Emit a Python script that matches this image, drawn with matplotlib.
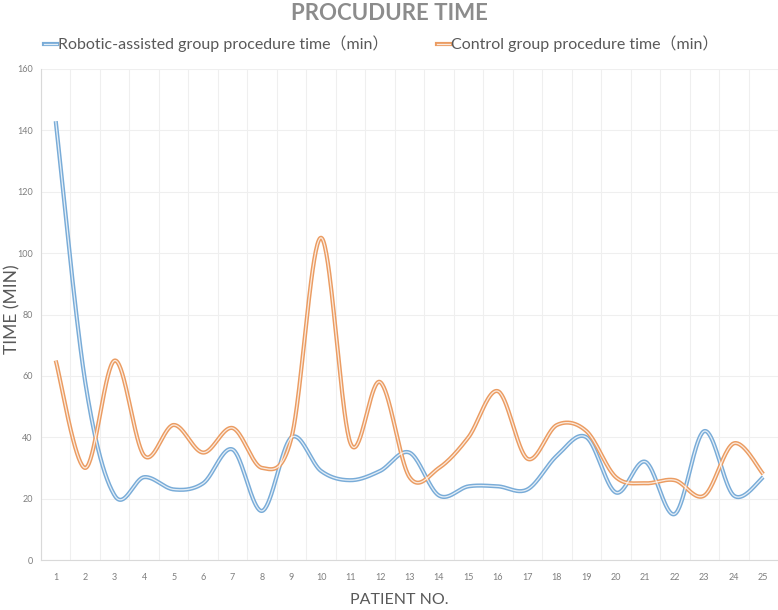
import numpy as np
import matplotlib
matplotlib.use("Agg")
import matplotlib.pyplot as plt

patients = list(range(1, 26))
robotic = [143, 58, 21, 27, 23, 25, 36, 16, 40, 29, 26, 29, 35, 21, 24, 24, 23, 34, 40, 22, 32, 15, 42, 21, 27]
control = [65, 30, 65, 34, 44, 35, 43, 30, 40, 105, 38, 58, 27, 30, 40, 55, 33, 44, 42, 27, 25, 26, 21, 38, 28]
yticks = [0, 20, 40, 60, 80, 100, 120, 140, 160]

title = "PROCUDURE TIME"
label_r = "Robotic-assisted group procedure time（min）"
label_c = "Control group procedure time（min）"

FAM = ["Lato", "Noto Sans CJK SC", "DejaVu Sans"]
plt.rcParams['font.family'] = FAM


def excel_smooth(x, y, n=40):
    x = np.asarray(x, float)
    y = np.asarray(y, float)
    px = np.concatenate([[x[0]], x, [x[-1]]])
    py = np.concatenate([[y[0]], y, [y[-1]]])
    xs, ys = [], []
    t = np.linspace(0, 1, n)
    for i in range(1, len(px) - 2):
        p0 = np.array([px[i], py[i]])
        p3 = np.array([px[i + 1], py[i + 1]])
        c1 = p0 + (np.array([px[i + 1], py[i + 1]]) - np.array([px[i - 1], py[i - 1]])) / 6
        c2 = p3 - (np.array([px[i + 2], py[i + 2]]) - np.array([px[i], py[i]])) / 6
        b = ((1 - t) ** 3)[:, None] * p0 + (3 * (1 - t) ** 2 * t)[:, None] * c1 \
            + (3 * (1 - t) * t ** 2)[:, None] * c2 + (t ** 3)[:, None] * p3
        xs.append(b[:, 0])
        ys.append(b[:, 1])
    return np.concatenate(xs), np.concatenate(ys)


fig = plt.figure(figsize=(7.78, 6.10), dpi=100)
ax = fig.add_axes([41 / 778, 1 - 560 / 610, 737 / 778, (560 - 69) / 610])

blue = "#79acd8"
orange = "#eb9c62"

for vals, col in [(robotic, blue), (control, orange)]:
    sx, sy = excel_smooth(patients, vals)
    ax.plot(sx, sy, color=col, lw=3.0, solid_capstyle='butt', zorder=3)
    ax.plot(sx, sy, color="white", lw=0.9, alpha=0.8, solid_capstyle='butt', zorder=4)

ax.set_xlim(0.5, 25.5)
ax.set_ylim(0, 160)
ax.set_yticks(yticks)
ax.set_xticks(patients)
ax.set_xticks(np.arange(0.5, 26, 1), minor=True)
ax.grid(True, which='major', axis='y', color="#efefef", lw=0.8)
ax.grid(True, which='minor', axis='x', color="#efefef", lw=0.8)
ax.set_axisbelow(True)
ax.tick_params(axis='both', which='both', length=0, labelsize=6.5, labelcolor="#7f7f7f")
ax.tick_params(axis='x', pad=9)
ax.tick_params(axis='y', pad=6)
for s in ['top', 'right']:
    ax.spines[s].set_visible(False)
for s in ['left', 'bottom']:
    ax.spines[s].set_color("#d9d9d9")
    ax.spines[s].set_linewidth(0.8)

fig.text(389 / 778, 1 - 13 / 610, title, ha='center', va='center', fontsize=16,
         fontweight='bold', color="#8c8c8c")

# legend
ly = 1 - 44 / 610
for x0, txt, col in [(44, label_r, blue), (437, label_c, orange)]:
    fig.add_artist(plt.Line2D([x0 / 778, (x0 + 13) / 778], [ly, ly], color=col, lw=3.0,
                              transform=fig.transFigure))
    fig.add_artist(plt.Line2D([x0 / 778, (x0 + 13) / 778], [ly, ly], color="white", lw=0.9,
                              alpha=0.8, transform=fig.transFigure))
    fig.text((x0 + 14) / 778, ly, txt, ha='left', va='center', fontsize=11.5,
             color="#595959", family=FAM)

fig.text(399 / 778, 1 - 600 / 610, "PATIENT NO.", ha='center', va='center',
         fontsize=11.5, color="#595959")
fig.text(12 / 778, 1 - 309 / 610, "TIME (MIN)", ha='center', va='center',
         fontsize=12.5, color="#595959", rotation=90)

fig.savefig("out.png", dpi=100, facecolor="white")
